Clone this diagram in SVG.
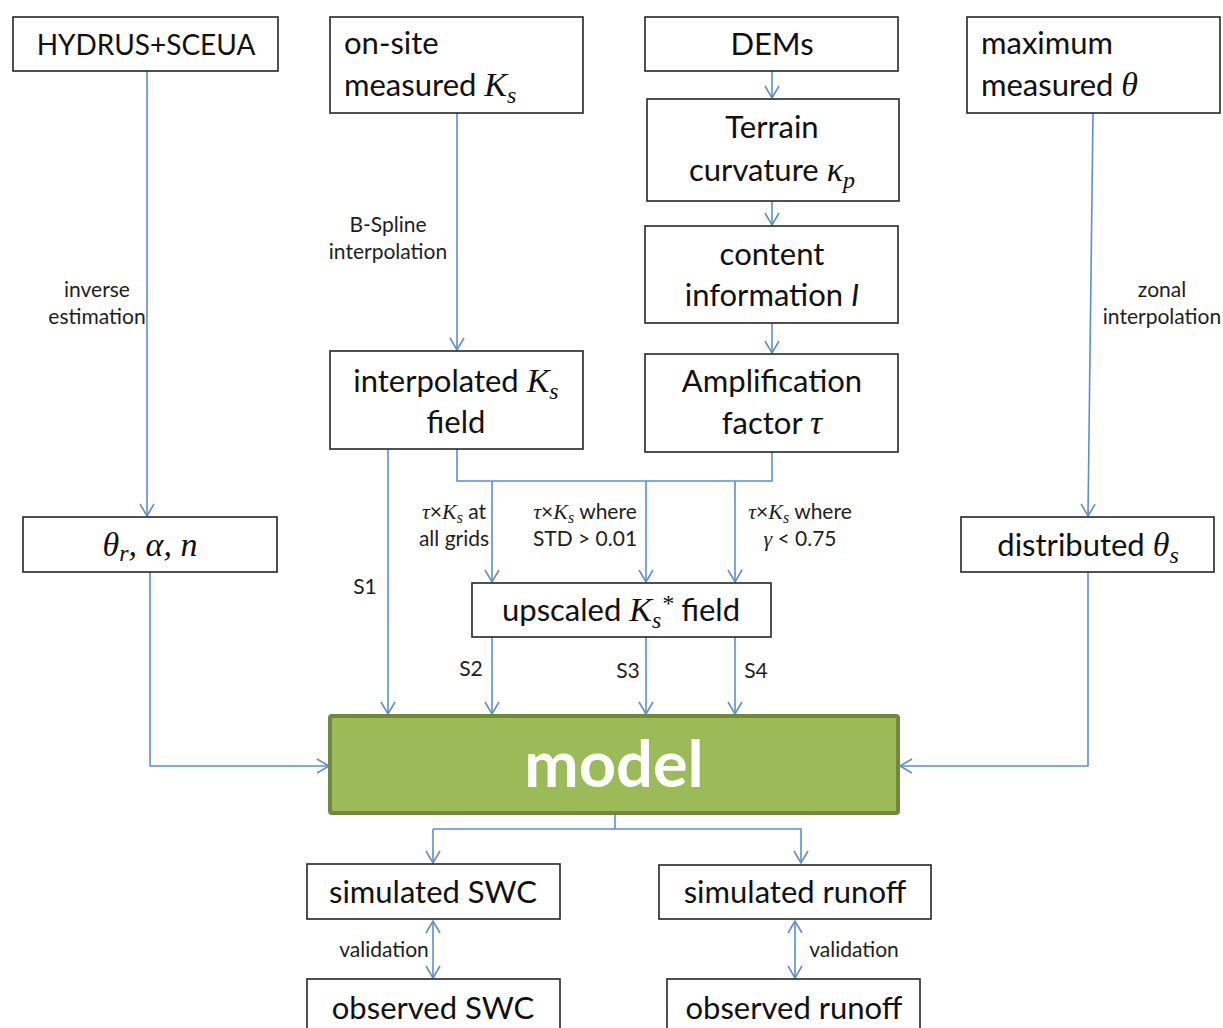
<svg xmlns="http://www.w3.org/2000/svg" width="1223" height="1028" viewBox="0 0 1223 1028">
  <defs>
    <style>
      .box { fill: #ffffff; stroke: #262626; stroke-width: 1.6; }
      .t { font-family: Lato, "Open Sans", sans-serif; font-size: 31px; fill: #111; }
      .c { text-anchor: middle; }
      .m { font-family: "Liberation Serif", "DejaVu Serif", serif; font-style: italic; font-size: 34px; }
      .sub { font-family: "Liberation Serif", "DejaVu Serif", serif; font-style: italic; font-size: 24px; }
      .lbl { font-family: Lato, "Open Sans", sans-serif; font-size: 21px; fill: #1e1e1e; text-anchor: middle; }
      .lm { font-family: "Liberation Serif", "DejaVu Serif", serif; font-style: italic; font-size: 22px; }
      .ls { font-family: "Liberation Serif", "DejaVu Serif", serif; font-style: italic; font-size: 16px; }
      .link { fill: none; stroke: #5f8fcb; stroke-width: 1.6; }
      .arr { marker-end: url(#head); }
      .both { marker-start: url(#head); marker-end: url(#head); }
    </style>
    <marker id="head" viewBox="-14 -9 16 18" refX="0" refY="0" markerWidth="16" markerHeight="18" markerUnits="userSpaceOnUse" orient="auto-start-reverse">
      <path d="M -12 -7 L 0 0 L -12 7" fill="none" stroke="#5f8fcb" stroke-width="1.6"/>
    </marker>
  </defs>

  <rect width="1223" height="1028" fill="#ffffff"/>

  <!-- connectors -->
  <g id="connectors">
    <path class="link arr" d="M 147 71 V 516"/>
    <path class="link arr" d="M 457 113 V 350"/>
    <path class="link arr" d="M 772 71 V 98"/>
    <path class="link arr" d="M 772 201 V 225"/>
    <path class="link arr" d="M 772 323 V 353"/>
    <path class="link arr" d="M 1093 113 L 1088 516"/>
    <path class="link arr" d="M 388 449 V 714"/>
    <path class="link" d="M 457 449 V 481 H 772 V 452"/>
    <path class="link arr" d="M 492 481 V 582"/>
    <path class="link arr" d="M 646 481 V 582"/>
    <path class="link arr" d="M 735 481 V 582"/>
    <path class="link arr" d="M 492 637 V 714"/>
    <path class="link arr" d="M 646 637 V 714"/>
    <path class="link arr" d="M 735 637 V 714"/>
    <path class="link arr" d="M 150 572 V 766 H 329"/>
    <path class="link arr" d="M 1088 572 V 766 H 900"/>
    <path class="link" d="M 615 814 V 829"/>
    <path class="link arr" d="M 433 829 H 801 V 863"/>
    <path class="link arr" d="M 433 829 V 863"/>
    <path class="link both" d="M 433 921 V 978"/>
    <path class="link both" d="M 795 921 V 978"/>

    <!-- connector labels -->
    <text class="lbl" x="97" y="297">inverse</text>
    <text class="lbl" x="97" y="324">estimation</text>
    <text class="lbl" x="388" y="232">B-Spline</text>
    <text class="lbl" x="388" y="259">interpolation</text>
    <text class="lbl" x="1162" y="297">zonal</text>
    <text class="lbl" x="1162" y="324">interpolation</text>
    <text class="lbl" x="454" y="519"><tspan class="lm">τ</tspan>×<tspan class="lm">K</tspan><tspan class="ls" dy="4">s</tspan><tspan dy="-4"> at</tspan></text>
    <text class="lbl" x="454" y="546">all grids</text>
    <text class="lbl" x="585" y="519"><tspan class="lm">τ</tspan>×<tspan class="lm">K</tspan><tspan class="ls" dy="4">s</tspan><tspan dy="-4"> where</tspan></text>
    <text class="lbl" x="585" y="546">STD &gt; 0.01</text>
    <text class="lbl" x="800" y="519"><tspan class="lm">τ</tspan>×<tspan class="lm">K</tspan><tspan class="ls" dy="4">s</tspan><tspan dy="-4"> where</tspan></text>
    <text class="lbl" x="800" y="546"><tspan class="lm">γ</tspan> &lt; 0.75</text>
    <text class="lbl" x="365" y="594">S1</text>
    <text class="lbl" x="471" y="676">S2</text>
    <text class="lbl" x="628" y="678">S3</text>
    <text class="lbl" x="756" y="678">S4</text>
    <text class="lbl" x="384" y="957">validation</text>
    <text class="lbl" x="854" y="957">validation</text>
  </g>

  <g id="hydrus">
    <rect class="box" x="13" y="17" width="265" height="54"/>
    <text class="t c" x="146" y="55" style="font-size: 28px">HYDRUS+SCEUA</text>
  </g>

  <g id="onsite">
    <rect class="box" x="330" y="17" width="253" height="96"/>
    <text class="t" x="344" y="54">on-site</text>
    <text class="t" x="344" y="96">measured <tspan class="m">K</tspan><tspan class="sub" dy="7">s</tspan></text>
  </g>

  <g id="dems">
    <rect class="box" x="645" y="17" width="253" height="54"/>
    <text class="t c" x="772" y="55">DEMs</text>
  </g>

  <g id="maxtheta">
    <rect class="box" x="967" y="17" width="253" height="96"/>
    <text class="t" x="981" y="54">maximum</text>
    <text class="t" x="981" y="96">measured <tspan class="m">θ</tspan></text>
  </g>

  <g id="terrain">
    <rect class="box" x="647" y="99" width="252" height="102"/>
    <text class="t c" x="772" y="138">Terrain</text>
    <text class="t c" x="772" y="181">curvature <tspan class="m">κ</tspan><tspan class="sub" dy="7">p</tspan></text>
  </g>

  <g id="content">
    <rect class="box" x="645" y="226" width="253" height="97"/>
    <text class="t c" x="772" y="265">content</text>
    <text class="t c" x="772" y="306">information <tspan font-style="italic">I</tspan></text>
  </g>

  <g id="interpolated">
    <rect class="box" x="330" y="351" width="253" height="98"/>
    <text class="t c" x="456" y="392">interpolated <tspan class="m">K</tspan><tspan class="sub" dy="7">s</tspan></text>
    <text class="t c" x="456" y="433">field</text>
  </g>

  <g id="amplification">
    <rect class="box" x="645" y="354" width="253" height="98"/>
    <text class="t c" x="772" y="392">Amplification</text>
    <text class="t c" x="772" y="434">factor <tspan class="m">τ</tspan></text>
  </g>

  <g id="params">
    <rect class="box" x="23" y="517" width="254" height="55"/>
    <text class="t c" x="150" y="556"><tspan class="m">θ</tspan><tspan class="sub" dy="5">r</tspan><tspan class="m" dy="-5">, α, n</tspan></text>
  </g>

  <g id="distributed">
    <rect class="box" x="961" y="517" width="253" height="55"/>
    <text class="t c" x="1088" y="556">distributed <tspan class="m">θ</tspan><tspan class="sub" dy="7">s</tspan></text>
  </g>

  <g id="upscaled">
    <rect class="box" x="472" y="583" width="299" height="54"/>
    <text class="t c" x="621" y="621">upscaled <tspan class="m">K</tspan><tspan class="sub" dy="7">s</tspan><tspan class="sub" dy="-17">*</tspan><tspan dy="10"> field</tspan></text>
  </g>

  <g id="model">
    <rect x="330" y="716" width="568" height="97" rx="2" fill="#9bbb59" stroke="#71893f" stroke-width="4"/>
    <text x="614" y="787" text-anchor="middle" font-family="Lato, 'Open Sans', sans-serif" font-weight="bold" font-size="65" fill="#ffffff">model</text>
  </g>

  <g id="simswc">
    <rect class="box" x="307" y="864" width="253" height="55"/>
    <text class="t c" x="433" y="903">simulated SWC</text>
  </g>

  <g id="simrunoff">
    <rect class="box" x="659" y="865" width="272" height="54"/>
    <text class="t c" x="795" y="903">simulated runoff</text>
  </g>

  <g id="obsswc">
    <rect class="box" x="307" y="979" width="253" height="60"/>
    <text class="t c" x="433" y="1019">observed SWC</text>
  </g>

  <g id="obsrunoff">
    <rect class="box" x="667" y="979" width="253" height="60"/>
    <text class="t c" x="794" y="1019">observed runoff</text>
  </g>
</svg>
